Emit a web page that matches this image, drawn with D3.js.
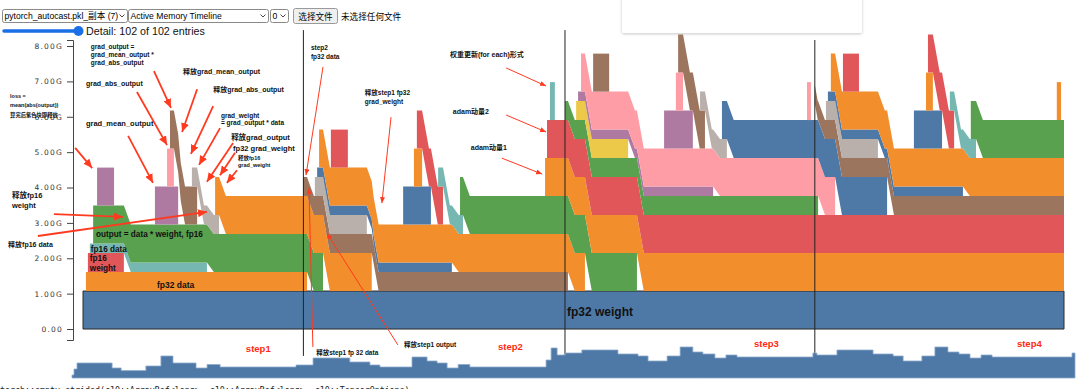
<!DOCTYPE html>
<html>
<head>
<meta charset="utf-8">
<script src="https://cdn.jsdelivr.net/npm/d3@7"></script>
<style>
  body { margin: 0; background: #fff; overflow: hidden; }
  svg { display: block; font-family: "Liberation Sans", Arial, "Noto Sans CJK SC", sans-serif; }
</style>
</head>
<body>
<svg id="chart" width="1080" height="389"></svg>
<script>
// one unit = 2^29 bytes, shown in GB
const U = 0.5369;

// allocations in the order they were made (times are event positions on the timeline, 0..300)
const blockName = [
  "fp32 weight", "fp32 data s1", "fp16 weight s1", "fp16 data s1", "output s1", "abs(output) s1",
  "grad_mean_output s1", "grad_abs_output s1", "grad_output s1", "fp16 grad_weight s1", "fp32 grad_weight s1",
  "fp32 data s2", "fp16 weight s2", "fp16 data s2", "output s2", "abs(output) s2",
  "grad_mean_output s2", "grad_abs_output s2", "grad_output s2", "fp16 grad_weight s2", "fp32 grad_weight s2",
  "adam exp_avg", "adam exp_avg_sq", "foreach tmp s2",
  "fp32 data s3", "fp16 weight s3", "fp16 data s3", "output s3", "abs(output) s3",
  "grad_mean_output s3", "grad_abs_output s3", "grad_output s3", "fp16 grad_weight s3", "fp32 grad_weight s3", "foreach tmp s3",
  "fp32 data s4", "fp16 weight s4", "fp16 data s4", "output s4", "abs(output) s4",
  "grad_mean_output s4", "grad_abs_output s4", "grad_output s4", "fp16 grad_weight s4", "fp32 grad_weight s4", "foreach tmp s4"
];
const blockSize = [
  2, 1, 1, 0.5, 2, 2, 2, 2, 2, 1, 2,
  1, 1, 0.5, 2, 2, 2, 2, 2, 1, 2, 2, 2, 2,
  1, 1, 0.5, 2, 2, 2, 2, 2, 1, 2, 2,
  1, 1, 0.5, 2, 2, 2, 2, 2, 1, 2, 2
];
const blockStart = [
  0, 0.9, 1.5, 2.1, 3.1, 4.3, 22.0, 25.7, 26.6, 33.3, 40.4,
  67.3, 70.9, 71.6, 72.2, 75.8, 97.9, 101.2, 102.1, 108.6, 115.3, 141.3, 141.9, 142.8,
  147.4, 150.8, 151.4, 152.3, 156.0, 177.7, 181.3, 182.0, 188.7, 195.4, 221.4,
  223.8, 227.2, 227.8, 228.7, 232.4, 254.1, 257.8, 258.4, 265.1, 271.5, 297.8
];
const blockEnd = [
  null, 68.5, 12.5, 37.9, 73.4, 9.5, 29.1, 27.8, 34.9, 41.6, 88.3,
  148.3, 86.8, 112.8, 153.5, 81.0, 106.4, 103.7, 110.1, 116.2, 169.4, null, null, 144.3,
  224.8, 166.7, 192.7, 230.0, 160.9, 186.5, 183.5, 190.2, 196.9, 245.9, 222.6,
  null, 243.1, 269.1, null, 237.3, 262.7, 259.9, 266.4, 273.1, null, 299.1
];

// overview strip: total memory over time (GB)
const miniT = [0, 0.6, 1.5, 12.0, 14.7, 22.1, 26.6, 30.2, 37.1, 40.4, 44.3, 67.0, 72.1, 83.1, 89.1, 92.1,
  101.7, 106.2, 109.2, 112.2, 115.5, 119.0, 141.8, 143.3, 145.1, 147.5, 152.5, 163.3, 169.3, 172.3, 178.0,
  181.9, 185.7, 188.7, 192.3, 195.6, 198.9, 221.6, 222.8, 228.8, 239.6, 245.6, 248.6, 254.2, 258.1, 262.0,
  265.3, 268.6, 271.9, 275.2, 299.1, 300];
const miniG = [0.86, 2.57, 4.29, 2.86, 2.11, 3.43, 6.29, 4.29, 2.86, 3.86, 3.14, 3.71, 5.71, 4.57, 3.71, 3.14,
  6.0, 4.86, 4.29, 2.86, 3.86, 3.14, 5.14, 8.57, 6.57, 7.14, 8.0, 6.86, 6.29, 4.86, 6.29,
  8.86, 7.43, 6.86, 5.71, 6.57, 6.0, 7.14, 6.57, 8.0, 6.86, 6.29, 4.86, 6.29, 8.86, 7.43,
  6.86, 5.71, 6.57, 6.0, 7.14, 7.14];

const yTicks = [0, 1, 2, 3, 4, 5, 6, 7, 8];
const stepNames = ["step1", "step2", "step3", "step4"];
const stepBoundary = [67.4, 147.4, 223.8];

// ---- styles / layout ----
const colors = d3.schemeTableau10;
const blockColor = [
  0, 1, 2, 3, 4, 6, 6, 7, 8, 9, 1,
  8, 9, 0, 1, 2, 0, 1, 2, 3, 4, 1, 2, 3,
  4, 5, 6, 7, 8, 6, 7, 8, 9, 0, 7,
  8, 9, 0, 1, 2, 0, 1, 2, 3, 4, 1
];
const RED = "#ff3a1f";
const SLIDE = 2.1;
const T_END = 300;

const svg = d3.select("#chart");
const x = d3.scaleLinear().domain([0, T_END]).range([83, 1064]);
const y = d3.scaleLinear().domain([-0.31, 8.17]).range([340, 40]);
const xm = d3.scaleLinear().domain([0, T_END]).range([72, 1075]);
const ym = d3.scaleLinear().domain([0, 10]).range([378, 343]);

// how much of block i still sits underneath later blocks at time t
function keep(i, t) {
  const f = blockEnd[i];
  if (f == null || t <= f) return 1;
  if (t >= f + SLIDE) return 0;
  return 1 - (t - f) / SLIDE;
}
function base(j, t) {
  let s = 0;
  for (let i = 0; i < j; i++) s += blockSize[i] * U * keep(i, t);
  return s;
}

const blocks = blockName.map((name, j) => {
  const s = blockStart[j], e = blockEnd[j] == null ? T_END : blockEnd[j];
  let ts = [s, e];
  for (let i = 0; i < j; i++) {
    const f = blockEnd[i];
    if (f == null) continue;
    [f, f + SLIDE].forEach(v => { if (v > s && v < e) ts.push(v); });
  }
  ts = Array.from(new Set(ts)).sort((a, b) => a - b);
  const h = blockSize[j] * U;
  const top = ts.map(t => [x(t), y(base(j, t) + h)]);
  const bot = ts.map(t => [x(t), y(base(j, t))]).reverse();
  return { name, j, pts: top.concat(bot) };
});

// ---- top controls ----
const bar = svg.append("g").attr("font-size", 8.6);
const selects = [
  { x0: 2, w: 125, label: "pytorch_autocast.pkl_副本 (7)" },
  { x0: 128, w: 140, label: "Active Memory Timeline" },
  { x0: 270, w: 18, label: "0" }
];
selects.forEach(s => {
  bar.append("rect").attr("x", s.x0 + 0.5).attr("y", 9.5).attr("width", s.w).attr("height", 13)
    .attr("rx", 2).attr("fill", "#fff").attr("stroke", "#8a8a8a");
  bar.append("text").attr("x", s.x0 + 2.5).attr("y", 19.3).attr("fill", "#000").text(s.label);
  const cx = s.x0 + s.w - 5;
  bar.append("polyline").attr("points", `${cx - 2.5},14.5 ${cx},17 ${cx + 2.5},14.5`)
    .attr("fill", "none").attr("stroke", "#333").attr("stroke-width", 0.9);
});
bar.append("rect").attr("x", 293.5).attr("y", 8.5).attr("width", 44).attr("height", 15)
  .attr("rx", 2).attr("fill", "#efefef").attr("stroke", "#9a9a9a");
bar.append("text").attr("x", 315.5).attr("y", 19.5).attr("text-anchor", "middle").text("选择文件");
bar.append("text").attr("x", 341).attr("y", 19.5).text("未选择任何文件");

bar.append("line").attr("x1", 4).attr("x2", 78).attr("y1", 31).attr("y2", 31)
  .attr("stroke", "#1a6fe6").attr("stroke-width", 3.5).attr("stroke-linecap", "round");
bar.append("circle").attr("cx", 78.5).attr("cy", 31).attr("r", 5).attr("fill", "#1a6fe6");
bar.append("text").attr("x", 86).attr("y", 35).attr("font-size", 10.7).attr("fill", "#111")
  .text("Detail: 102 of 102 entries");

// popup box at the top
const defs = svg.append("defs");
defs.append("filter").attr("id", "shadow").attr("x", "-10%").attr("y", "-50%").attr("width", "120%").attr("height", "200%")
  .append("feDropShadow").attr("dx", 0).attr("dy", 1).attr("stdDeviation", 1.6)
  .attr("flood-color", "#000").attr("flood-opacity", 0.22);
svg.append("rect").attr("x", 622).attr("y", -6).attr("width", 240).attr("height", 39)
  .attr("rx", 2).attr("fill", "#fff").attr("filter", "url(#shadow)");

// ---- blocks ----
svg.append("g").selectAll("polygon").data(blocks).join("polygon")
  .attr("points", d => d.pts.map(p => p.join(",")).join(" "))
  .attr("fill", d => colors[blockColor[d.j]])
  .attr("stroke", d => d.j === 0 ? "#2a2a2a" : "none")
  .attr("stroke-width", 1);

// ---- y axis ----
const axis = svg.append("g").attr("transform", "translate(73,0)")
  .call(d3.axisLeft(y).tickValues(yTicks).tickSize(6)
    .tickFormat(d => d === 0 ? "0.00" : d.toFixed(2) + "G"));
axis.select(".domain").attr("stroke", "#444");
axis.selectAll(".tick line").attr("stroke", "#444");
axis.selectAll("text").attr("font-family", "DejaVu Sans").attr("font-size", 7.5)
  .attr("letter-spacing", 1.2).attr("fill", "#333").attr("x", -10);

// ---- step boundaries ----
const lineTop = [8.45, 8.45, 8.17], lineBottom = [-0.76, -0.73, -0.93];
svg.append("g").selectAll("line").data(stepBoundary).join("line")
  .attr("x1", d => x(d)).attr("x2", d => x(d))
  .attr("y1", (d, i) => y(lineTop[i])).attr("y2", (d, i) => y(lineBottom[i]))
  .attr("stroke", "#222").attr("stroke-width", 1);

const stepPos = [[49.8, -0.65], [126.9, -0.59], [205.2, -0.51], [285.6, -0.51]];
svg.append("g").selectAll("text").data(stepNames).join("text")
  .attr("x", (d, i) => x(stepPos[i][0])).attr("y", (d, i) => y(stepPos[i][1]))
  .attr("font-size", 9.5).attr("font-weight", "bold").attr("fill", "#ff2a12").text(d => d);

// ---- overview strip ----
const miniData = miniT.map((t, i) => [t, miniG[i]]);
svg.append("path").datum(miniData)
  .attr("d", d3.area().curve(d3.curveStepAfter).x(d => xm(d[0])).y0(ym(0)).y1(d => ym(d[1])))
  .attr("fill", "#4e79a7").attr("stroke", "#8eabcb").attr("stroke-width", 0.8);

// ---- labels inside blocks ----
const inner = [
  { text: "fp32 weight", t: 148.0, g: 0.37, fs: 12 },
  { text: "fp32 data", t: 22.6, g: 1.16, fs: 8.5 },
  { text: "output = data * weight, fp16", t: 4.0, g: 2.60, fs: 8.2 },
  { text: "fp16 data", t: 2.4, g: 2.18, fs: 8.2 },
  { text: "fp16", t: 2.1, g: 1.91, fs: 8.2 },
  { text: "weight", t: 2.1, g: 1.64, fs: 8.2 }
];
svg.append("g").selectAll("text").data(inner).join("text")
  .attr("x", d => x(d.t)).attr("y", d => y(d.g)).attr("font-size", d => d.fs)
  .attr("font-weight", "bold").attr("fill", "#111").text(d => d.text);

// ---- annotations ----
const notes = [
  { text: "grad_output =", t: 2.4, g: 7.91, fs: 6.5 },
  { text: "grad_mean_output *", t: 2.4, g: 7.68, fs: 6.5 },
  { text: "grad_abs_output", t: 2.4, g: 7.45, fs: 6.5 },
  { text: "grad_abs_output", t: 0.9, g: 6.88, fs: 7 },
  { text: "grad_mean_output", t: 0.9, g: 5.75, fs: 7.5 },
  { text: "loss =", t: -22.3, g: 6.52, fs: 5.5 },
  { text: "mean(abs(output))", t: -22.3, g: 6.28, fs: 5.5 },
  { text: "算完后紫色块即释放", t: -22.3, g: 6.00, fs: 5.3 },
  { text: "释放grad_mean_output", t: 30.6, g: 7.22, fs: 7 },
  { text: "释放grad_abs_output", t: 39.8, g: 6.69, fs: 7 },
  { text: "grad_weight", t: 42.2, g: 5.96, fs: 6.5 },
  { text: "= grad_output * data", t: 42.2, g: 5.76, fs: 6.5 },
  { text: "释放grad_output", t: 45.3, g: 5.35, fs: 7.5 },
  { text: "fp32 grad_weight", t: 45.9, g: 5.04, fs: 7.5 },
  { text: "释放fp16", t: 47.4, g: 4.78, fs: 5.5 },
  { text: "grad_weight", t: 47.4, g: 4.58, fs: 5.5 },
  { text: "释放fp16", t: -21.7, g: 3.69, fs: 7.5 },
  { text: "weight", t: -21.7, g: 3.43, fs: 7.5 },
  { text: "释放fp16 data", t: -22.9, g: 2.33, fs: 7 },
  { text: "step2", t: 69.7, g: 7.88, fs: 6.5 },
  { text: "fp32 data", t: 69.7, g: 7.62, fs: 6.5 },
  { text: "释放step1 fp32", t: 86.2, g: 6.61, fs: 6.5 },
  { text: "grad_weight", t: 86.2, g: 6.35, fs: 6.5 },
  { text: "权重更新(for each)形式", t: 112.2, g: 7.70, fs: 7 },
  { text: "adam动量2", t: 113.1, g: 6.09, fs: 7 },
  { text: "adam动量1", t: 118.6, g: 5.05, fs: 7 },
  { text: "释放step1 fp 32 data", t: 71.3, g: -0.72, fs: 6.5 },
  { text: "释放step1 output", t: 98.2, g: -0.52, fs: 6.5 }
];
svg.append("g").selectAll("text").data(notes).join("text")
  .attr("x", d => x(d.t)).attr("y", d => y(d.g)).attr("font-size", d => d.fs)
  .attr("font-weight", "bold").attr("fill", "#111").text(d => d.text);

const mk = (id, w, h) => defs.append("marker").attr("id", id)
  .attr("markerUnits", "userSpaceOnUse").attr("markerWidth", w).attr("markerHeight", h)
  .attr("refX", w).attr("refY", h / 2).attr("orient", "auto")
  .append("path").attr("d", `M0,0L${w},${h / 2}L0,${h}Z`).attr("fill", RED);
mk("headBig", 9, 8);
mk("headSmall", 6, 5);

const arrows = [
  { a: [-2.4, 5.12], b: [2.8, 4.55], big: true },
  { a: [13.8, 5.46], b: [21.4, 4.13], big: true },
  { a: [16.5, 6.70], b: [25.7, 5.20], big: true },
  { a: [21.7, 7.29], b: [26.9, 6.25], big: true },
  { a: [34.9, 6.78], b: [30.3, 5.57], big: true },
  { a: [39.8, 6.30], b: [33.0, 4.95], big: true },
  { a: [41.9, 5.68], b: [35.5, 4.64], big: true },
  { a: [45.9, 5.26], b: [37.9, 4.16], big: true },
  { a: [46.5, 4.98], b: [41.9, 4.35], big: true },
  { a: [47.1, 4.49], b: [44.0, 4.13], big: true },
  { a: [-8.9, 3.25], b: [12.2, 3.17], big: true },
  { a: [-13.8, 2.63], b: [37.9, 3.31], big: true },
  { a: [73.4, 7.41], b: [68.2, 4.35], big: false },
  { a: [94.2, 5.99], b: [91.4, 3.56], big: false },
  { a: [129.4, 7.38], b: [141.6, 6.87], big: false },
  { a: [129.4, 6.05], b: [141.6, 5.57], big: false },
  { a: [128.1, 4.83], b: [140.4, 4.38], big: false },
  { a: [70.3, -0.51], b: [69.1, 3.99], big: false },
  { a: [96.3, -0.45], b: [74.6, 2.71], big: false }
];
svg.append("g").selectAll("line").data(arrows).join("line")
  .attr("x1", d => x(d.a[0])).attr("y1", d => y(d.a[1]))
  .attr("x2", d => x(d.b[0])).attr("y2", d => y(d.b[1]))
  .attr("stroke", RED).attr("stroke-width", d => d.big ? 1.8 : 1)
  .attr("marker-end", d => d.big ? "url(#headBig)" : "url(#headSmall)");

// call-stack line cut off at the bottom of the window
svg.append("text").attr("x", 0).attr("y", 393)
  .attr("font-family", "DejaVu Sans Mono").attr("font-size", 8.3).attr("fill", "#222")
  .text("torch::empty_strided(c10::ArrayRef<long>, c10::ArrayRef<long>, c10::TensorOptions)");
</script>
</body>
</html>
